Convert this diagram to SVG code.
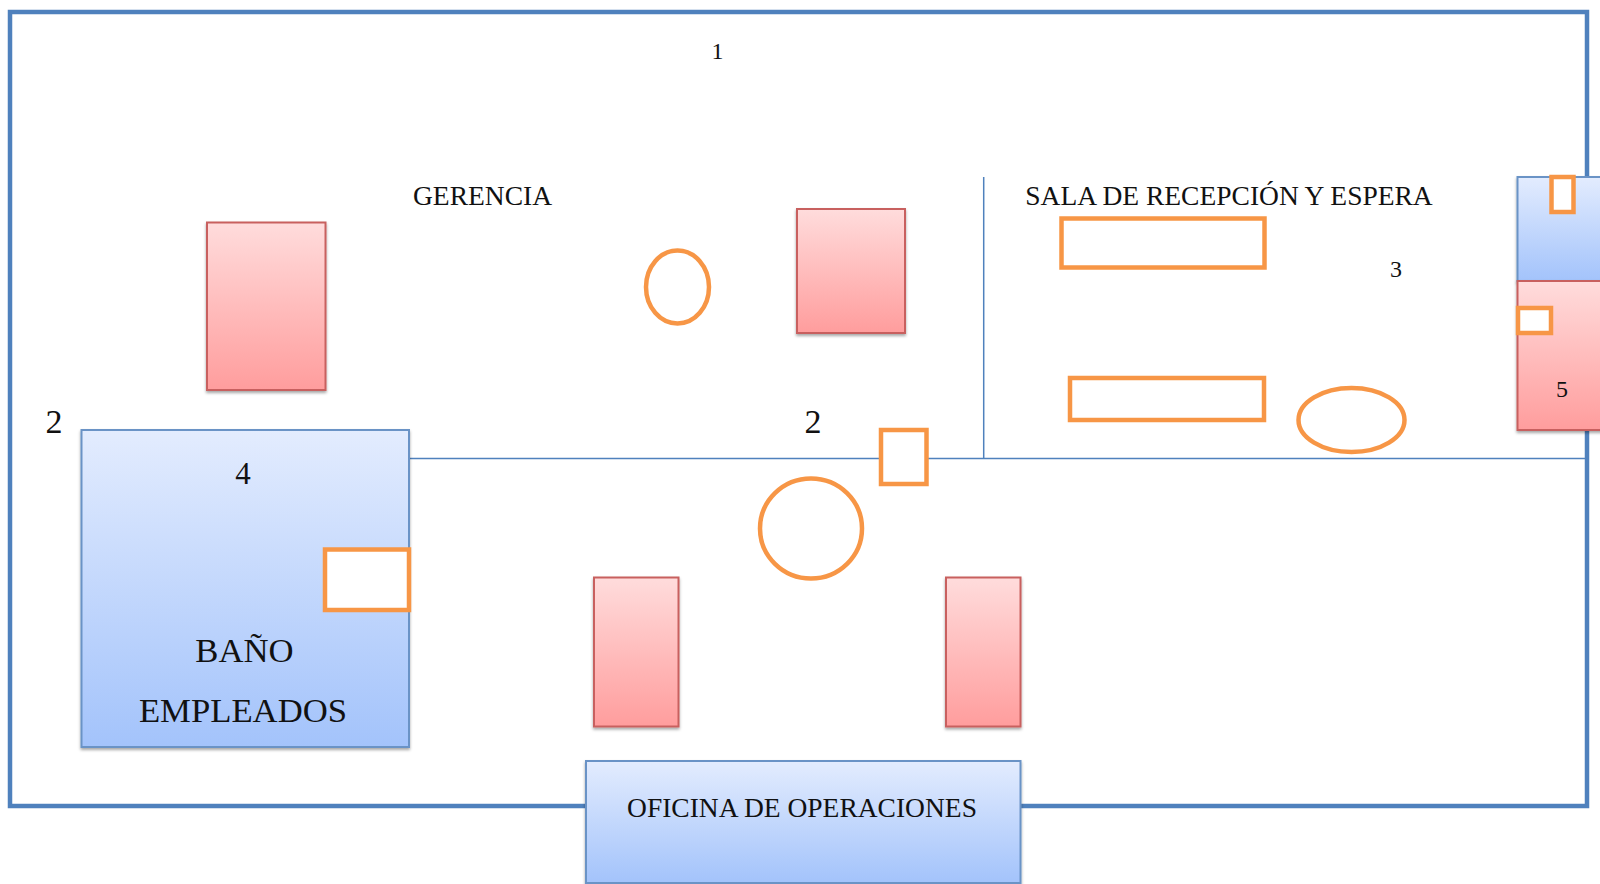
<svg xmlns="http://www.w3.org/2000/svg" width="1600" height="884" viewBox="0 0 1600 884">
<style>
text{font-family:"Liberation Serif","Times New Roman",serif;fill:#111}
.blue{fill:url(#b);stroke:#6a93c6;stroke-width:2;filter:url(#s)}
.pink{fill:url(#p);stroke:#c8605f;stroke-width:2;filter:url(#s)}
.o{fill:#fff;stroke:#f79646;stroke-width:4.5}
.wall{fill:none;stroke:#4f81bd}
</style>
<defs>
<linearGradient id="b" x1="0" y1="0" x2="0" y2="1"><stop offset="0" stop-color="#e3ecfe"/><stop offset="1" stop-color="#a3c3fb"/></linearGradient>
<linearGradient id="p" x1="0" y1="0" x2="0" y2="1"><stop offset="0" stop-color="#ffdcdc"/><stop offset="1" stop-color="#ff9d9d"/></linearGradient>
<filter id="s" x="-10%" y="-10%" width="120%" height="120%"><feDropShadow dx="0" dy="2" stdDeviation="1.5" flood-color="#000" flood-opacity=".35"/></filter>
</defs>
<rect width="1600" height="884" fill="#fff"/>
<g id="connectors">
<rect class="wall" x="10" y="12" width="1577" height="794" stroke-width="4.5"/>
<line class="wall" x1="409" y1="458.500" x2="1585" y2="458.500" stroke-width="1.500"/>
<line class="wall" x1="983.700" y1="177" x2="983.700" y2="459" stroke-width="1.500"/>
</g>
<g id="pink-a"><rect class="pink" x="207" y="222.500" width="118.500" height="167.500"/></g>
<g id="pink-b"><rect class="pink" x="797" y="209" width="108" height="124"/></g>
<g id="pink-c"><rect class="pink" x="594" y="577.500" width="84.500" height="149"/></g>
<g id="pink-d"><rect class="pink" x="946" y="577.500" width="74.500" height="149"/></g>
<g id="bano"><rect class="blue" x="81.500" y="430" width="327.500" height="317"/>
<text x="243" y="484" font-size="31" text-anchor="middle">4</text>
<text x="244.500" y="662" font-size="34.700" text-anchor="middle">BAÑO</text>
<text x="243" y="722" font-size="34.700" text-anchor="middle">EMPLEADOS</text></g>
<g id="bano-door"><rect class="o" x="325" y="549.500" width="84" height="60.500"/></g>
<g id="operaciones"><rect class="blue" x="586" y="761" width="434.500" height="122"/>
<text x="802" y="817" font-size="27.500" text-anchor="middle">OFICINA DE OPERACIONES</text></g>
<g id="right-blue"><rect class="blue" x="1517.500" y="177" width="90" height="104"/></g>
<g id="right-pink"><rect class="pink" x="1517.500" y="281" width="90" height="149"/>
<text x="1562" y="397" font-size="24" text-anchor="middle">5</text></g>
<g id="right-o1"><rect class="o" x="1551.500" y="177" width="22" height="35"/></g>
<g id="right-o2"><rect class="o" x="1518" y="308" width="33" height="25"/></g>
<g id="mesa-1"><rect class="o" x="1061.500" y="218.500" width="203" height="49"/></g>
<g id="mesa-2"><rect class="o" x="1070" y="378" width="194" height="42"/></g>
<g id="ellipse-gerencia"><ellipse class="o" cx="677.500" cy="287" rx="31.500" ry="36.500"/></g>
<g id="ellipse-sala"><ellipse class="o" cx="1351.500" cy="420" rx="53" ry="32"/></g>
<g id="circle-oficina"><ellipse class="o" cx="811" cy="528.500" rx="51" ry="50"/></g>
<g id="puerta"><rect class="o" x="881" y="430" width="45.500" height="54"/></g>
<g id="labels">
<text x="717.500" y="59" font-size="24" text-anchor="middle">1</text>
<text x="482.500" y="205" font-size="27.500" text-anchor="middle">GERENCIA</text>
<text x="1229" y="205" font-size="27.500" text-anchor="middle">SALA DE RECEPCIÓN Y ESPERA</text>
<text x="1396" y="277" font-size="24" text-anchor="middle">3</text>
<text x="54" y="433" font-size="34" text-anchor="middle">2</text>
<text x="813" y="433" font-size="34" text-anchor="middle">2</text>
</g>
</svg>
